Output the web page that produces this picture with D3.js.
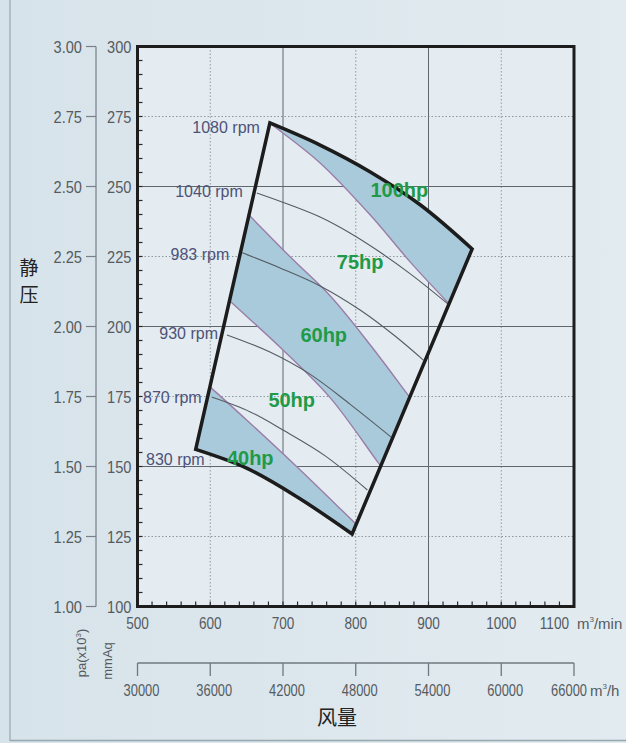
<!DOCTYPE html>
<html>
<head>
<meta charset="utf-8">
<script src="https://cdn.jsdelivr.net/npm/d3@7"></script>
<style>
html, body { margin: 0; padding: 0; background: #dce7ed; }
svg { display: block; }
</style>
</head>
<body>
<svg id="chart" width="626" height="743"></svg>
<script>
// axis values
var flowTicks = [500, 600, 700, 800, 900, 1000, 1100]
var flowHourTicks = [30000, 36000, 42000, 48000, 54000, 60000, 66000]
var pressTicks = [100, 125, 150, 175, 200, 225, 250, 275, 300]
var paLabels = ["1.00", "1.25", "1.50", "1.75", "2.00", "2.25", "2.50", "2.75", "3.00"]
var solidFlow = [700, 900]
var dottedFlow = [600, 800, 1000]
var solidPress = [150, 200, 250]
var dottedPress = [125, 175, 225, 275]

// fan curves (m3/min, mmAq), first = top edge, last = bottom edge
var rpmNames = ["1080 rpm", "1040 rpm", "983 rpm", "930 rpm", "870 rpm", "830 rpm"]
var rpmFlow = [
    [682, 751, 820, 889, 960],
    [664, 710, 751, 792, 829, 875, 927],
    [644, 696, 751, 806, 854, 893],
    [623, 682, 737, 792, 852],
    [602, 655, 700, 758, 816],
    [580, 650, 719, 795]]
var rpmPress = [
    [272.7, 264.8, 255.2, 243.4, 227.7],
    [247.7, 243.4, 239.1, 233.4, 227.3, 218.8, 208.0],
    [226.3, 220.9, 214.5, 205.9, 196.6, 188.0],
    [197.0, 190.9, 183.0, 172.3, 159.8],
    [174.8, 169.5, 163.0, 153.8, 141.6],
    [156.1, 149.4, 139.2, 125.9]]

// motor power boundaries (purple lines)
var hpLineFlow = [
    [682, 751, 820, 875, 927],
    [657, 714, 765, 820, 872],
    [630, 700, 765, 831],
    [602, 650, 719, 797]]
var hpLinePress = [
    [272.7, 258.4, 239.8, 223.0, 208.4],
    [238.8, 223.8, 210.9, 193.4, 175.5],
    [208.4, 191.6, 174.5, 151.3],
    [177.9, 166.6, 149.9, 130.3]]

var hpNames = ["100hp", "75hp", "60hp", "50hp", "40hp"]
var hpLabelFlow = [860, 806, 756, 712, 655]
var hpLabelPress = [248.7, 223, 197, 173.7, 153]

// label placement next to curve starts (px)
var rpmLabelDx = [-10, -14, -13, -9, -10, 9]
var rpmLabelDy = [10, 4, 7, 4, 6, 16]

var svg = d3.select('#chart')

var x = d3.scaleLinear().domain([500, 1100]).range([137.5, 574])
var y = d3.scaleLinear().domain([100, 300]).range([606.5, 46.5])

var pxLine = d3.line().curve(d3.curveCatmullRom.alpha(0.5))

function pts(q, p) { return q.map(function(v, i) { return [x(v), y(p[i])] }) }

function extend(a, len) {
    function out(p, q) {
	var dx = p[0] - q[0], dy = p[1] - q[1], l = Math.hypot(dx, dy)
	return [p[0] + dx / l * len, p[1] + dy / l * len]
    }
    return [out(a[0], a[1])].concat(a, [out(a[a.length - 1], a[a.length - 2])])
}

// narrow axis digits: move the anchor into a transform and scale x
function squeeze(sel, k) {
    sel.each(function() {
	var ax = +this.getAttribute('x'), ay = +this.getAttribute('y')
	this.setAttribute('x', 0)
	this.setAttribute('y', 0)
	this.setAttribute('transform', 'translate(' + ax + ',' + ay + ') scale(' + k + ',1)')
    })
}

// background
var defs = svg.append('defs')
var grad = defs.append('linearGradient').attr('id', 'bg').attr('x1', 0).attr('x2', 1)
grad.append('stop').attr('offset', 0).attr('stop-color', '#d7e3ea')
grad.append('stop').attr('offset', 1).attr('stop-color', '#e2ebf0')
svg.append('rect').attr('width', 626).attr('height', 743).attr('fill', 'url(#bg)')
svg.append('line').attr('x1', 10).attr('x2', 10).attr('y1', 0).attr('y2', 741)
    .attr('stroke', '#a3b2ba').attr('stroke-width', 1.5)
svg.append('line').attr('x1', 10).attr('x2', 626).attr('y1', 740.5).attr('y2', 740.5)
    .attr('stroke', '#97a7af').attr('stroke-width', 1.5)

// plot area
svg.append('rect')
    .attr('x', x(500)).attr('y', y(300))
    .attr('width', x(1100) - x(500)).attr('height', y(100) - y(300))
    .attr('fill', '#e4ecf1')

var grid = svg.append('g')
grid.selectAll('line.vd').data(dottedFlow).enter().append('line')
    .attr('x1', x).attr('x2', x).attr('y1', y(300)).attr('y2', y(100))
    .attr('stroke', '#8d99a1').attr('stroke-dasharray', '1.5,2')
grid.selectAll('line.hd').data(dottedPress).enter().append('line')
    .attr('y1', y).attr('y2', y).attr('x1', x(500)).attr('x2', x(1100))
    .attr('stroke', '#8d99a1').attr('stroke-dasharray', '1.5,2')
grid.selectAll('line.vs').data(solidFlow).enter().append('line')
    .attr('x1', x).attr('x2', x).attr('y1', y(300)).attr('y2', y(100))
    .attr('stroke', '#5f686f')
grid.selectAll('line.hs').data(solidPress).enter().append('line')
    .attr('y1', y).attr('y2', y).attr('x1', x(500)).attr('x2', x(1100))
    .attr('stroke', '#5f686f')

// minor ticks inside frame
svg.append('g').selectAll('line').data(d3.range(105, 300, 5)).enter().append('line')
    .attr('x1', x(500)).attr('x2', x(500) + 5).attr('y1', y).attr('y2', y)
    .attr('stroke', '#2a2a2a').attr('stroke-width', 1.2)
svg.append('g').selectAll('line').data(d3.range(520, 1100, 20)).enter().append('line')
    .attr('y1', y(100)).attr('y2', y(100) - 5).attr('x1', x).attr('x2', x)
    .attr('stroke', '#2a2a2a').attr('stroke-width', 1.2)

// operating envelope
var topEdge = pts(rpmFlow[0], rpmPress[0])
var bottomEdge = pts(rpmFlow[5], rpmPress[5]).reverse()
var outline = pxLine(topEdge) + pxLine(bottomEdge).replace(/^M/, 'L') + 'Z'

defs.append('clipPath').attr('id', 'env').append('path').attr('d', outline)

var hpPts = hpLineFlow.map(function(q, i) { return extend(pts(q, hpLinePress[i]), 40) })

function capBand(e, yv) {
    var a = e[0], b = e[e.length - 1]
    return pxLine(e) + 'L' + b[0] + ',' + y(yv) + 'L' + a[0] + ',' + y(yv) + 'Z'
}
var bands = [
    capBand(hpPts[0], 340),
    pxLine(hpPts[1]) + pxLine(hpPts[2].slice().reverse()).replace(/^M/, 'L') + 'Z',
    capBand(hpPts[3], 60)]

var env = svg.append('g').attr('clip-path', 'url(#env)')
env.selectAll('path.band').data(bands).enter().append('path')
    .attr('d', function(d) { return d })
    .attr('fill', '#a9cadb')

svg.append('g').selectAll('path').data([1, 2, 3, 4]).enter().append('path')
    .attr('d', function(i) { return pxLine(pts(rpmFlow[i], rpmPress[i])) })
    .attr('fill', 'none').attr('stroke', '#555c63').attr('stroke-width', 1.1)

env.selectAll('path.hp').data(hpPts).enter().append('path')
    .attr('d', function(d) { return pxLine(d) })
    .attr('fill', 'none').attr('stroke', '#9a7ea8').attr('stroke-width', 1.4)

svg.append('path').attr('d', outline)
    .attr('fill', 'none').attr('stroke', '#1c1c1c').attr('stroke-width', 3.5)
    .attr('stroke-linejoin', 'miter')

// frame
svg.append('rect')
    .attr('x', x(500)).attr('y', y(300))
    .attr('width', x(1100) - x(500)).attr('height', y(100) - y(300))
    .attr('fill', 'none').attr('stroke', '#1d1d1d').attr('stroke-width', 3)

// rpm labels
svg.append('g').selectAll('text').data(rpmNames).enter().append('text')
    .attr('x', function(d, i) { return x(rpmFlow[i][0]) + rpmLabelDx[i] })
    .attr('y', function(d, i) { return y(rpmPress[i][0]) + rpmLabelDy[i] })
    .attr('text-anchor', 'end')
    .attr('font-family', 'Liberation Sans, Arial, sans-serif').attr('font-size', 16)
    .attr('fill', '#4e5278')
    .text(function(d) { return d })

// hp labels
svg.append('g').selectAll('text').data(hpNames).enter().append('text')
    .attr('x', function(d, i) { return x(hpLabelFlow[i]) })
    .attr('y', function(d, i) { return y(hpLabelPress[i]) })
    .attr('dy', '0.35em').attr('text-anchor', 'middle')
    .attr('font-family', 'Liberation Sans, Arial, sans-serif').attr('font-size', 20)
    .attr('font-weight', 'bold').attr('fill', '#1f9a46')
    .text(function(d) { return d })

// left axes
var axisFont = 'Liberation Sans, Arial, sans-serif'
var axisCol = '#555b61'
svg.append('line').attr('x1', 96).attr('x2', 96).attr('y1', y(300)).attr('y2', y(100))
    .attr('stroke', '#787f85').attr('stroke-width', 1.2)
svg.append('g').selectAll('line').data(pressTicks).enter().append('line')
    .attr('x1', 86).attr('x2', 96).attr('y1', y).attr('y2', y)
    .attr('stroke', '#787f85').attr('stroke-width', 1.2)
svg.append('g').selectAll('text').data(pressTicks).enter().append('text')
    .attr('x', 82).attr('y', y).attr('dy', '0.36em').attr('text-anchor', 'end')
    .attr('font-family', axisFont).attr('font-size', 17).attr('fill', axisCol)
    .text(function(d, i) { return paLabels[i] })
    .call(squeeze, 0.86)
svg.append('g').selectAll('text').data(pressTicks).enter().append('text')
    .attr('x', 131.5).attr('y', y).attr('dy', '0.36em').attr('text-anchor', 'end')
    .attr('font-family', axisFont).attr('font-size', 17).attr('fill', axisCol)
    .text(function(d) { return d })
    .call(squeeze, 0.86)

// bottom axes
svg.append('g').selectAll('text').data(flowTicks.slice(0, -1)).enter().append('text')
    .attr('x', x).attr('y', 629).attr('text-anchor', 'middle')
    .attr('font-family', axisFont).attr('font-size', 17).attr('fill', axisCol)
    .text(function(d) { return d })
    .call(squeeze, 0.8)
svg.append('text').attr('x', x(1100) - 5).attr('y', 629).attr('text-anchor', 'end')
    .attr('font-family', axisFont).attr('font-size', 17).attr('fill', axisCol)
    .text(flowTicks[flowTicks.length - 1])
    .call(squeeze, 0.8)
var unitMin = svg.append('text').attr('x', x(1100) + 3).attr('y', 629)
    .attr('font-family', axisFont).attr('font-size', 15).attr('fill', axisCol)
unitMin.append('tspan').text('m')
unitMin.append('tspan').attr('font-size', 8).attr('dy', -7).text('3')
unitMin.append('tspan').attr('dy', 7).text('/min')

svg.append('line').attr('x1', x(500)).attr('x2', x(1100)).attr('y1', 663).attr('y2', 663)
    .attr('stroke', '#6f787e').attr('stroke-width', 1.3)
svg.append('g').selectAll('line').data(flowHourTicks).enter().append('line')
    .attr('x1', function(d) { return x(d / 60) }).attr('x2', function(d) { return x(d / 60) })
    .attr('y1', 663).attr('y2', 676)
    .attr('stroke', '#6f787e').attr('stroke-width', 1.3)
svg.append('g').selectAll('text').data(flowHourTicks.slice(0, -1)).enter().append('text')
    .attr('x', function(d) { return x(d / 60) + 4 })
    .attr('y', 696).attr('text-anchor', 'middle')
    .attr('font-family', axisFont).attr('font-size', 17).attr('fill', axisCol)
    .text(function(d) { return d })
    .call(squeeze, 0.76)
svg.append('text').attr('x', x(1100) + 13).attr('y', 696).attr('text-anchor', 'end')
    .attr('font-family', axisFont).attr('font-size', 17).attr('fill', axisCol)
    .text(flowHourTicks[flowHourTicks.length - 1])
    .call(squeeze, 0.76)
var unitH = svg.append('text').attr('x', x(1100) + 16).attr('y', 696)
    .attr('font-family', axisFont).attr('font-size', 15).attr('fill', axisCol)
unitH.append('tspan').text('m')
unitH.append('tspan').attr('font-size', 8).attr('dy', -7).text('3')
unitH.append('tspan').attr('dy', 7).text('/h')

// unit captions
var pa = svg.append('text').attr('transform', 'translate(86,653) rotate(-90)')
    .attr('text-anchor', 'middle').attr('font-family', axisFont).attr('font-size', 13)
    .attr('fill', axisCol)
pa.append('tspan').text('pa(x10')
pa.append('tspan').attr('font-size', 8).attr('dy', -5).text('3')
pa.append('tspan').attr('dy', 5).text(')')
svg.append('text').attr('transform', 'translate(112,661) rotate(-90)')
    .attr('text-anchor', 'middle').attr('font-family', axisFont).attr('font-size', 13)
    .attr('fill', axisCol).text('mmAq')

var cjk = '"Noto Sans CJK SC", sans-serif'
svg.append('text').attr('x', 29).attr('y', 268).attr('dy', '0.35em').attr('text-anchor', 'middle')
    .attr('font-family', cjk).attr('font-size', 19).attr('fill', '#222').text('静')
svg.append('text').attr('x', 29).attr('y', 295).attr('dy', '0.35em').attr('text-anchor', 'middle')
    .attr('font-family', cjk).attr('font-size', 19).attr('fill', '#222').text('压')
svg.append('text').attr('x', 337).attr('y', 718).attr('dy', '0.35em').attr('text-anchor', 'middle')
    .attr('font-family', cjk).attr('font-size', 20).attr('fill', '#222').text('风量')
</script>
</body>
</html>
